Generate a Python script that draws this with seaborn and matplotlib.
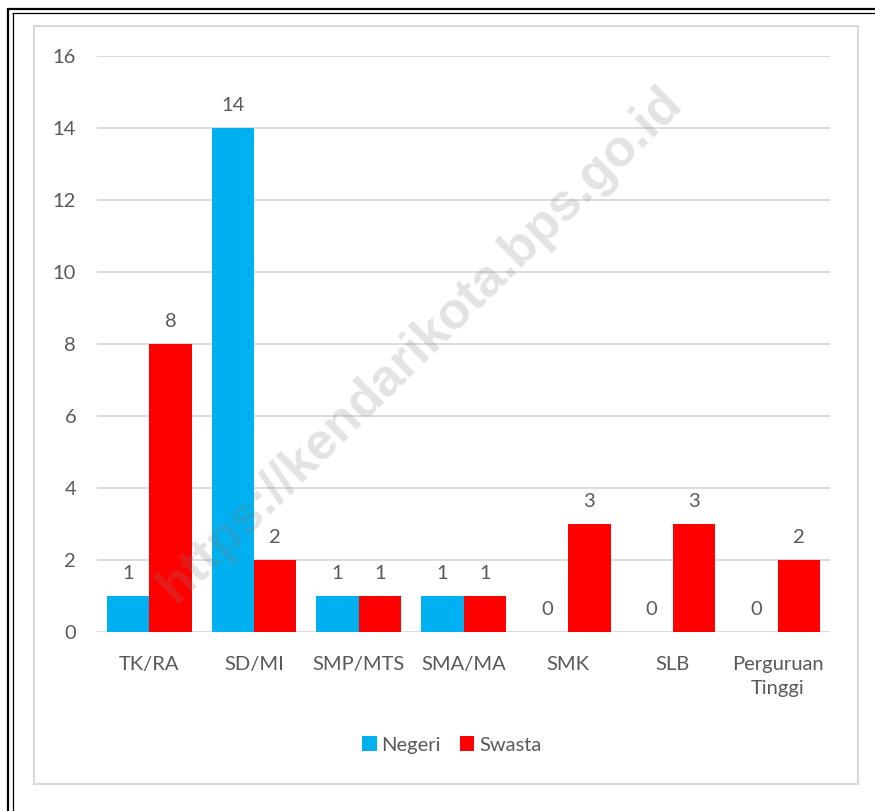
import matplotlib
matplotlib.use("Agg")
import matplotlib.pyplot as plt
from matplotlib.lines import Line2D
from matplotlib.patches import Rectangle
import seaborn as sns
import pandas as pd

# Jumlah sekolah menurut jenjang pendidikan dan status
jenjang = ["TK/RA", "SD/MI", "SMP/MTS", "SMA/MA", "SMK", "SLB", "Perguruan\nTinggi"]
negeri = [1, 14, 1, 1, 0, 0, 0]
swasta = [8, 2, 1, 1, 3, 3, 2]
status = ["Negeri", "Swasta"]
warna = {"Negeri": "#00B0F0", "Swasta": "#FF0000"}
y_ticks = [0, 2, 4, 6, 8, 10, 12, 14, 16]

df = pd.DataFrame({
    "Jenjang": jenjang * 2,
    "Status": [status[0]] * len(jenjang) + [status[1]] * len(jenjang),
    "Jumlah": negeri + swasta,
})

sns.set_theme(style="white")
plt.rcParams["font.family"] = ["Lato", "DejaVu Sans"]
text_color = "#595959"
grid_color = "#D9D9D9"
fs = 14.5

W, H = 875, 811
fig = plt.figure(figsize=(W / 100, H / 100), dpi=100)
fig.patch.set_facecolor("white")

ax = fig.add_axes([97 / W, 1 - 632 / H, (830 - 97) / W, (632 - 56) / H])
sns.barplot(data=df, x="Jenjang", y="Jumlah", hue="Status", palette=warna,
            order=jenjang, hue_order=status, width=0.81, gap=0,
            saturation=1, linewidth=0, ax=ax, legend=True)

ax.set_ylim(0, 16)
ax.set_yticks(y_ticks)
ax.set_xlim(-0.5, len(jenjang) - 0.5)
ax.grid(axis="y", color=grid_color, linewidth=1.3)
ax.set_axisbelow(True)
for s in ax.spines.values():
    s.set_visible(False)
ax.set_xlabel("")
ax.set_ylabel("")
ax.tick_params(axis="both", length=0, labelsize=fs, colors=text_color)
ax.tick_params(axis="y", pad=15)
ax.tick_params(axis="x", pad=17)
for lbl in ax.get_xticklabels():
    lbl.set_linespacing(1.55)

for cont in ax.containers:
    ax.bar_label(cont, labels=[f"{v:g}" for v in cont.datavalues],
                 padding=10, fontsize=fs, color=text_color)

handles, labels = ax.get_legend_handles_labels()
ax.legend(handles, labels, loc="center", bbox_to_anchor=(452 / W, 1 - 745 / H),
          bbox_transform=fig.transFigure, ncol=2, frameon=False,
          fontsize=fs, labelcolor=text_color, handlelength=0.7,
          handleheight=0.7, handletextpad=0.25, columnspacing=0.95)

# watermark
fig.text(420 / W, 1 - 345 / H, "https://kendarikota.bps.go.id",
         rotation=44.5, ha="center", va="center", fontsize=37.5,
         fontweight="bold", family=["Liberation Sans", "DejaVu Sans"],
         color="#808080", alpha=0.22, zorder=10)

# chart area border
fig.add_artist(Rectangle((34 / W, 1 - 784 / H), (858 - 34) / W, (784 - 26) / H,
                         transform=fig.transFigure, fill=False,
                         edgecolor=grid_color, linewidth=1.5))

# page double border (left and top)
def px_line(x0, y0, x1, y1, lw):
    fig.add_artist(Line2D([x0 / W, x1 / W], [1 - y0 / H, 1 - y1 / H],
                          transform=fig.transFigure, color="black",
                          linewidth=lw, solid_capstyle="butt"))

px_line(8.3, 8, 8.3, H, 1.6)
px_line(7.5, 9, W, 9, 1.6)
px_line(12.5, 12.5, 12.5, H, 0.9)
px_line(12, 12.5, W, 12.5, 0.9)

fig.savefig("out.png", dpi=100, facecolor="white")
